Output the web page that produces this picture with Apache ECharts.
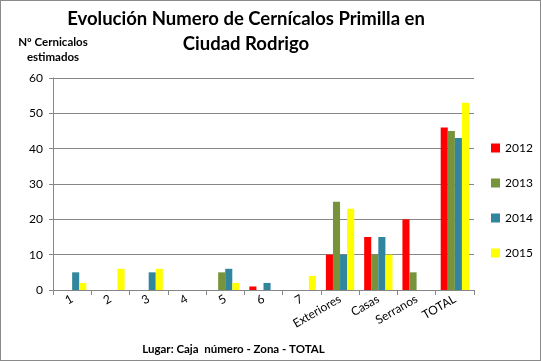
<!DOCTYPE html>
<html><head><meta charset="utf-8">
<script src="https://cdn.jsdelivr.net/npm/echarts@6/dist/echarts.min.js"></script>
<style>html,body{margin:0;padding:0;background:#fff}#c{width:539px;height:359px;border:1px solid #8a8a8a;}</style>
</head><body><div id="c"></div>
<script>
var categories = ['1','2','3','4','5','6','7','Exteriores','Casas','Serranos','TOTAL'];
var s2012 = [null,null,null,null,null,1,null,10,15,20,46];
var s2013 = [null,null,null,null,5,null,null,25,10,5,45];
var s2014 = [5,null,5,null,6,2,null,10,15,null,43];
var s2015 = [2,6,6,null,2,null,4,23,10,null,53];
var yTicks = [0,10,20,30,40,50,60];
var seriesNames = ['2012','2013','2014','2015'];
var colors = ['#FF0000','#77933C','#31859C','#FFFF00'];
var F = 'Lato, "Open Sans", sans-serif';
var chart = echarts.init(document.getElementById('c'));
var data = [s2012,s2013,s2014,s2015];
chart.setOption({
  animation:false,
  color: colors,
  title:{text:'Evolución Numero de Cernícalos Primilla en\nCiudad Rodrigo', left:240, top:1, textAlign:'center',
    textStyle:{fontFamily:F,fontSize:18.5,fontWeight:'bold',color:'#000',lineHeight:25}},
  legend:{orient:'vertical', left:485, top:136, itemWidth:9, itemHeight:9, itemGap:23,
    textStyle:{fontFamily:F,fontSize:12,color:'#000'}, icon:'rect', data:seriesNames},
  grid:{left:52, right:66, top:77, bottom:69},
  xAxis:{type:'category', data:categories, boundaryGap:true,
    axisLine:{lineStyle:{color:'#868686'}},
    axisTick:{show:true, alignWithLabel:false, length:5, lineStyle:{color:'#868686'}},
    axisLabel:{rotate:30, fontFamily:F, fontSize:12, color:'#000', margin:8, interval:0},
    name:'Lugar: Caja  número - Zona - TOTAL', nameLocation:'middle', nameGap:53,
    nameTextStyle:{fontFamily:F,fontSize:11.5,fontWeight:'bold',color:'#000', padding:[0,60,0,0]}},
  yAxis:{type:'value', min:0, max:60, interval:10,
    axisLine:{show:true,lineStyle:{color:'#868686'}},
    axisTick:{show:true,length:4,lineStyle:{color:'#868686'}},
    splitLine:{lineStyle:{color:'#868686'}},
    axisLabel:{fontFamily:F,fontSize:12,color:'#000',margin:10},
    name:'Nº Cernicalos\nestimados', nameLocation:'end', nameGap:13,
    nameTextStyle:{fontFamily:F,fontSize:11.5,fontWeight:'bold',color:'#000',align:'center',lineHeight:15, padding:[0,0,0,0]}},
  series: seriesNames.map(function(n,i){return {name:n,type:'bar',data:data[i],barGap:'0%',barCategoryGap:'26%',itemStyle:{color:colors[i]}};})
});
</script></body></html>
